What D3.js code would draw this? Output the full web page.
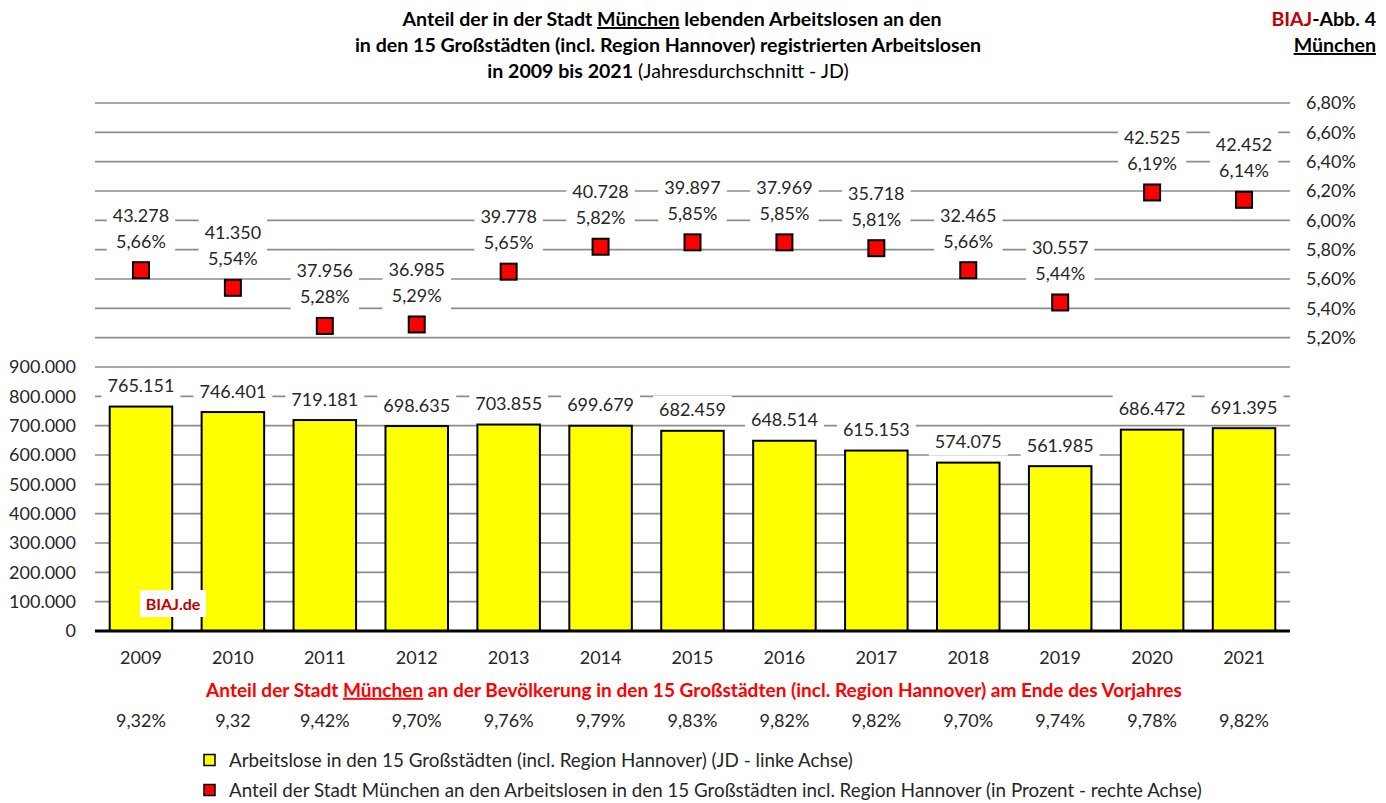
<!DOCTYPE html>
<html lang="de">
<head>
<meta charset="utf-8">
<script src="https://cdn.jsdelivr.net/npm/d3@7"></script>
<style>
  html, body { margin: 0; padding: 0; background: #fff; }
  svg { display: block; font-family: Lato, "Open Sans", sans-serif; }
</style>
</head>
<body>
<svg id="chart" width="1386" height="803"></svg>
<script>
// Jahre
const years = ["2009","2010","2011","2012","2013","2014","2015","2016","2017","2018","2019","2020","2021"];
// Arbeitslose in den 15 Großstädten (incl. Region Hannover), Jahresdurchschnitt
const totalUnemployed = [765151, 746401, 719181, 698635, 703855, 699679, 682459, 648514, 615153, 574075, 561985, 686472, 691395];
// Arbeitslose in der Stadt München, Jahresdurchschnitt
const munichUnemployed = [43278, 41350, 37956, 36985, 39778, 40728, 39897, 37969, 35718, 32465, 30557, 42525, 42452];
// Anteil München an den Arbeitslosen in Prozent
const munichShare = [5.66, 5.54, 5.28, 5.29, 5.65, 5.82, 5.85, 5.85, 5.81, 5.66, 5.44, 6.19, 6.14];
// Anteil München an der Bevölkerung am Ende des Vorjahres (wie ausgewiesen)
const populationShareLabels = ["9,32%","9,32","9,42%","9,70%","9,76%","9,79%","9,83%","9,82%","9,82%","9,70%","9,74%","9,78%","9,82%"];
// Achsenbeschriftungen
const leftTicks = [0, 100000, 200000, 300000, 400000, 500000, 600000, 700000, 800000, 900000];
const rightTicks = [5.2, 5.4, 5.6, 5.8, 6.0, 6.2, 6.4, 6.6, 6.8];
const gridValues = d3.range(100000, 1800001, 100000);

const de = d3.formatLocale({ decimal: ",", thousands: ".", grouping: [3], currency: ["", " €"] });
const fmtInt = de.format(",d");
const fmtPct = v => de.format(".2f")(v) + "%";

const svg = d3.select("#chart");
const TEXT = "#262626";

const x = d3.scaleBand().domain(years).range([95, 1290]).paddingInner(0.32).paddingOuter(0.16);
const yLeft = d3.scaleLinear().domain([0, 1800000]).range([631, 103]);
const yRight = d3.scaleLinear().domain([3.2, 6.8]).range([631, 103]);

function fitWidth(sel, target) {
  const node = sel.node();
  const fs = parseFloat(sel.attr("font-size"));
  const w = node.getComputedTextLength();
  if (w > 0) sel.attr("font-size", (fs * target / w).toFixed(2));
  return sel;
}

// Titel
const titleG = svg.append("g").attr("fill", "#000").attr("font-weight", "bold").attr("text-anchor", "middle");
const t1 = titleG.append("text").attr("x", 672).attr("y", 26).attr("font-size", 17);
t1.append("tspan").text("Anteil der in der Stadt ");
t1.append("tspan").style("text-decoration", "underline").text("München");
t1.append("tspan").text(" lebenden Arbeitslosen an den");
fitWidth(t1, 539);
const tfs = t1.attr("font-size");
titleG.append("text").attr("x", 668).attr("y", 52).attr("font-size", tfs)
  .text("in den 15 Großstädten (incl. Region Hannover) registrierten Arbeitslosen");
const t3 = titleG.append("text").attr("x", 668).attr("y", 78).attr("font-size", tfs);
t3.append("tspan").text("in 2009 bis 2021");
t3.append("tspan").attr("font-weight", "normal").text(" (Jahresdurchschnitt - JD)");

const tr = svg.append("g").attr("font-weight", "bold").attr("text-anchor", "end").attr("font-size", tfs);
const tr1 = tr.append("text").attr("x", 1376).attr("y", 26).attr("fill", "#000");
tr1.append("tspan").attr("fill", "#C00000").text("BIAJ");
tr1.append("tspan").text("-Abb. 4");
tr.append("text").attr("x", 1376).attr("y", 52).attr("fill", "#000")
  .style("text-decoration", "underline").text("München");

// Gitternetz
svg.append("g").selectAll("line").data(gridValues).join("line")
  .attr("x1", 95).attr("x2", 1290)
  .attr("y1", d => yLeft(d)).attr("y2", d => yLeft(d))
  .attr("stroke", "#8c8c8c").attr("stroke-width", 1.6);

// Linke Achse
svg.append("g").attr("font-size", 18).attr("fill", TEXT).attr("text-anchor", "end")
  .selectAll("text").data(leftTicks).join("text")
  .attr("x", 76).attr("y", d => yLeft(d)).attr("dy", "0.36em")
  .text(d => fmtInt(d));

// Rechte Achse
svg.append("g").attr("font-size", 18).attr("fill", TEXT).attr("text-anchor", "start")
  .selectAll("text").data(rightTicks).join("text")
  .attr("x", 1306).attr("y", d => yRight(d)).attr("dy", "0.36em")
  .text(d => fmtPct(d));

// Säulen
svg.append("g").selectAll("rect").data(years).join("rect")
  .attr("x", d => x(d)).attr("width", x.bandwidth())
  .attr("y", (d, i) => yLeft(totalUnemployed[i]))
  .attr("height", (d, i) => yLeft(0) - yLeft(totalUnemployed[i]))
  .attr("fill", "#FFFF00").attr("stroke", "#000").attr("stroke-width", 2);

// Grundlinie
svg.append("line").attr("x1", 95).attr("x2", 1290).attr("y1", yLeft(0)).attr("y2", yLeft(0))
  .attr("stroke", "#000").attr("stroke-width", 3);

// Wertbeschriftung der Säulen
const barLab = svg.append("g");
years.forEach((yr, i) => {
  const cx = x(yr) + x.bandwidth() / 2;
  const cy = yLeft(totalUnemployed[i]) - 21;
  const bg = barLab.append("rect").attr("fill", "#fff");
  const t = barLab.append("text").attr("x", cx).attr("y", cy).attr("dy", "0.36em")
    .attr("text-anchor", "middle").attr("font-size", 18).attr("fill", TEXT)
    .text(fmtInt(totalUnemployed[i]));
  const w = t.node().getComputedTextLength();
  bg.attr("x", cx - w / 2 - 6).attr("width", w + 12).attr("y", cy - 14).attr("height", 28);
});

// Beschriftung der Anteilswerte
const ptLab = svg.append("g");
years.forEach((yr, i) => {
  const cx = x(yr) + x.bandwidth() / 2;
  const my = yRight(munichShare[i]);
  const l1 = my - 55, l2 = my - 29;
  const bg = ptLab.append("rect").attr("fill", "#fff");
  const a = ptLab.append("text").attr("x", cx).attr("y", l1).attr("dy", "0.36em")
    .attr("text-anchor", "middle").attr("font-size", 18).attr("fill", TEXT)
    .text(fmtInt(munichUnemployed[i]));
  const b = ptLab.append("text").attr("x", cx).attr("y", l2).attr("dy", "0.36em")
    .attr("text-anchor", "middle").attr("font-size", 18).attr("fill", TEXT)
    .text(fmtPct(munichShare[i]));
  const w = Math.max(a.node().getComputedTextLength(), b.node().getComputedTextLength());
  bg.attr("x", cx - w / 2 - 6).attr("width", w + 12).attr("y", l1 - 16).attr("height", l2 - l1 + 32);
});

// Marker
const ms = 16;
svg.append("g").selectAll("rect").data(years).join("rect")
  .attr("x", d => x(d) + x.bandwidth() / 2 - ms / 2)
  .attr("y", (d, i) => yRight(munichShare[i]) - ms / 2)
  .attr("width", ms).attr("height", ms)
  .attr("fill", "#FF0000").attr("stroke", "#000").attr("stroke-width", 2);

// Logo im Diagramm
svg.append("rect").attr("x", 140).attr("y", 590).attr("width", 66).attr("height", 27).attr("fill", "#fff");
svg.append("text").attr("x", 173).attr("y", 604).attr("dy", "0.36em").attr("text-anchor", "middle")
  .attr("font-size", 16).attr("font-weight", "bold").attr("fill", "#C00000").text("BIAJ.de");

// Kategorien
svg.append("g").attr("font-size", 18).attr("fill", TEXT).attr("text-anchor", "middle")
  .selectAll("text").data(years).join("text")
  .attr("x", d => x(d) + x.bandwidth() / 2).attr("y", 658).attr("dy", "0.36em")
  .text(d => d);

// Bevölkerungsanteil
const sub = svg.append("text").attr("x", 694).attr("y", 690).attr("dy", "0.36em")
  .attr("text-anchor", "middle").attr("font-size", 17).attr("font-weight", "bold").attr("fill", "#FF0000");
sub.append("tspan").text("Anteil der Stadt ");
sub.append("tspan").style("text-decoration", "underline").text("München");
sub.append("tspan").text(" an der Bevölkerung in den 15 Großstädten (incl. Region Hannover) am Ende des Vorjahres");
fitWidth(sub, 976);

svg.append("g").attr("font-size", 18).attr("fill", TEXT).attr("text-anchor", "middle")
  .selectAll("text").data(populationShareLabels).join("text")
  .attr("x", (d, i) => x(years[i]) + x.bandwidth() / 2).attr("y", 721).attr("dy", "0.36em")
  .text(d => d);

// Legende
const legend = [
  { color: "#FFFF00", label: "Arbeitslose in den 15 Großstädten (incl. Region Hannover) (JD - linke Achse)", y: 760, w: 624 },
  { color: "#FF0000", label: "Anteil der Stadt München an den Arbeitslosen in den 15 Großstädten incl. Region Hannover (in Prozent - rechte Achse)", y: 790, w: 973 }
];
const lg = svg.append("g");
legend.forEach(l => {
  lg.append("rect").attr("x", 204).attr("y", l.y - 5.5).attr("width", 11).attr("height", 11)
    .attr("fill", l.color).attr("stroke", "#000").attr("stroke-width", 1.5);
  const t = lg.append("text").attr("x", 229).attr("y", l.y).attr("dy", "0.36em")
    .attr("font-size", 17).attr("fill", TEXT).text(l.label);
  fitWidth(t, l.w);
});
</script>
</body>
</html>
